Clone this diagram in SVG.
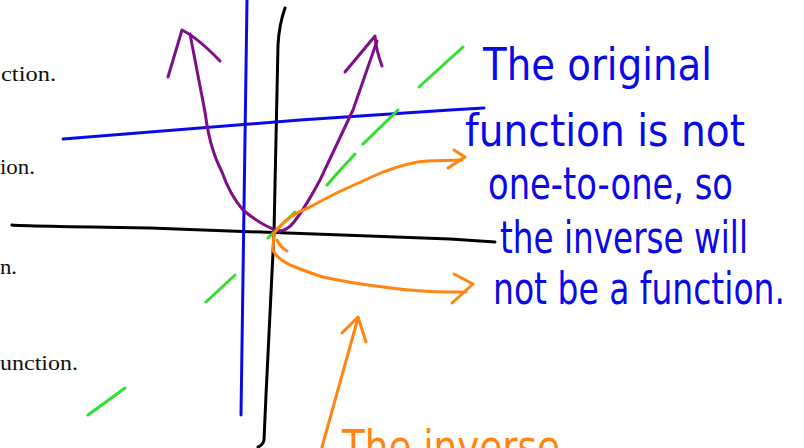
<svg xmlns="http://www.w3.org/2000/svg" width="804" height="448" viewBox="0 0 804 448">
<style>
.ink{fill:none;stroke-linecap:round;stroke-linejoin:round;stroke-width:3}
.blk{stroke:#000}
.blu{stroke:#0a0ae6}
.pur{stroke:#7d0f8a}
.grn{stroke:#2ee02e}
.org{stroke:#ff8410}
.hand{font-family:"Liberation Sans Narrow","DejaVu Sans Condensed","Liberation Sans",sans-serif;font-size:44px}
.bt{fill:#0a0ae6}
.ot{fill:#ff8410}
.ser{font-family:"Liberation Serif","DejaVu Serif",serif;font-size:22px;fill:#111}
</style>
<rect width="804" height="448" fill="#fff"/>
<g id="left-text">
<text class="ser" x="1" y="81" textLength="55" lengthAdjust="spacingAndGlyphs">ction.</text>
<text class="ser" x="0" y="174" textLength="35" lengthAdjust="spacingAndGlyphs">ion.</text>
<text class="ser" x="0" y="274" textLength="17" lengthAdjust="spacingAndGlyphs">n.</text>
<text class="ser" x="0" y="370" textLength="78" lengthAdjust="spacingAndGlyphs">unction.</text>
</g>
<g id="axes">
<path class="ink blk" d="M285,8 Q279,25 278,45 L274,232 L266,395 L264,440 Q263,445 258,447"/>
<path class="ink blk" d="M12,225 Q20,226 150,228 Q330,234 450,239 L495,242"/>
</g>
<g id="blue-lines">
<path class="ink blu" d="M247,0 L241,415"/>
<path class="ink blu" d="M63,139 L300,120 L450,110 L484,108"/>
</g>
<g id="green-dashes">
<path class="ink grn" d="M88,415 L125,388 M206,302 L235,275 M268,238 L295,212 M327,185 Q340,170 355,154 M363,144 L398,110 M419,87 L463,47"/>
</g>
<g id="parabola">
<path class="ink pur" d="M279,231 Q262,226 243,210 Q230,195 222,172 Q216,160 213,150 Q208,135 205,112 L190,34"/>
<path class="ink pur" d="M168,77 L182,30 Q198,38 220,61"/>
<path class="ink pur" d="M279,231 Q287,231 294,222 Q305,208 320,180 L353,110 L377,41"/>
<path class="ink pur" d="M345,72 L375,36 Q376,50 382,66"/>
</g>
<g id="orange-arrows">
<path class="ink org" d="M275,232 Q281,224 292,216 Q300,211 310,207 Q330,196 343,190 Q365,180 383,172 Q410,162 427,161 L462,160"/>
<path class="ink org" d="M454,150 L465,157 L448,168"/>
<path class="ink org" d="M277,240 Q281,248 287,251"/>
<path class="ink org" d="M274,233 L273,250 Q276,258 290,265 Q310,273 323,277 Q350,283 383,287 Q420,292 450,292 L466,292"/>
<path class="ink org" d="M454,274 L473,284 L452,303"/>
<path class="ink org" d="M322,447 L358,318"/>
<path class="ink org" d="M342,333 L358,317 L366,342"/>
</g>
<g id="blue-note">
<text class="hand bt" x="483" y="80" textLength="229" lengthAdjust="spacingAndGlyphs">The original</text>
<text class="hand bt" x="465" y="146" textLength="280" lengthAdjust="spacingAndGlyphs">function is not</text>
<text class="hand bt" x="488" y="199" textLength="245" lengthAdjust="spacingAndGlyphs">one-to-one, so</text>
<text class="hand bt" x="500" y="253" textLength="248" lengthAdjust="spacingAndGlyphs">the inverse will</text>
<text class="hand bt" x="493" y="304" font-size="42" textLength="292" lengthAdjust="spacingAndGlyphs">not be a function.</text>
</g>
<g id="orange-note">
<text class="hand ot" x="342" y="462" textLength="218" lengthAdjust="spacingAndGlyphs">The inverse</text>
</g>
</svg>
